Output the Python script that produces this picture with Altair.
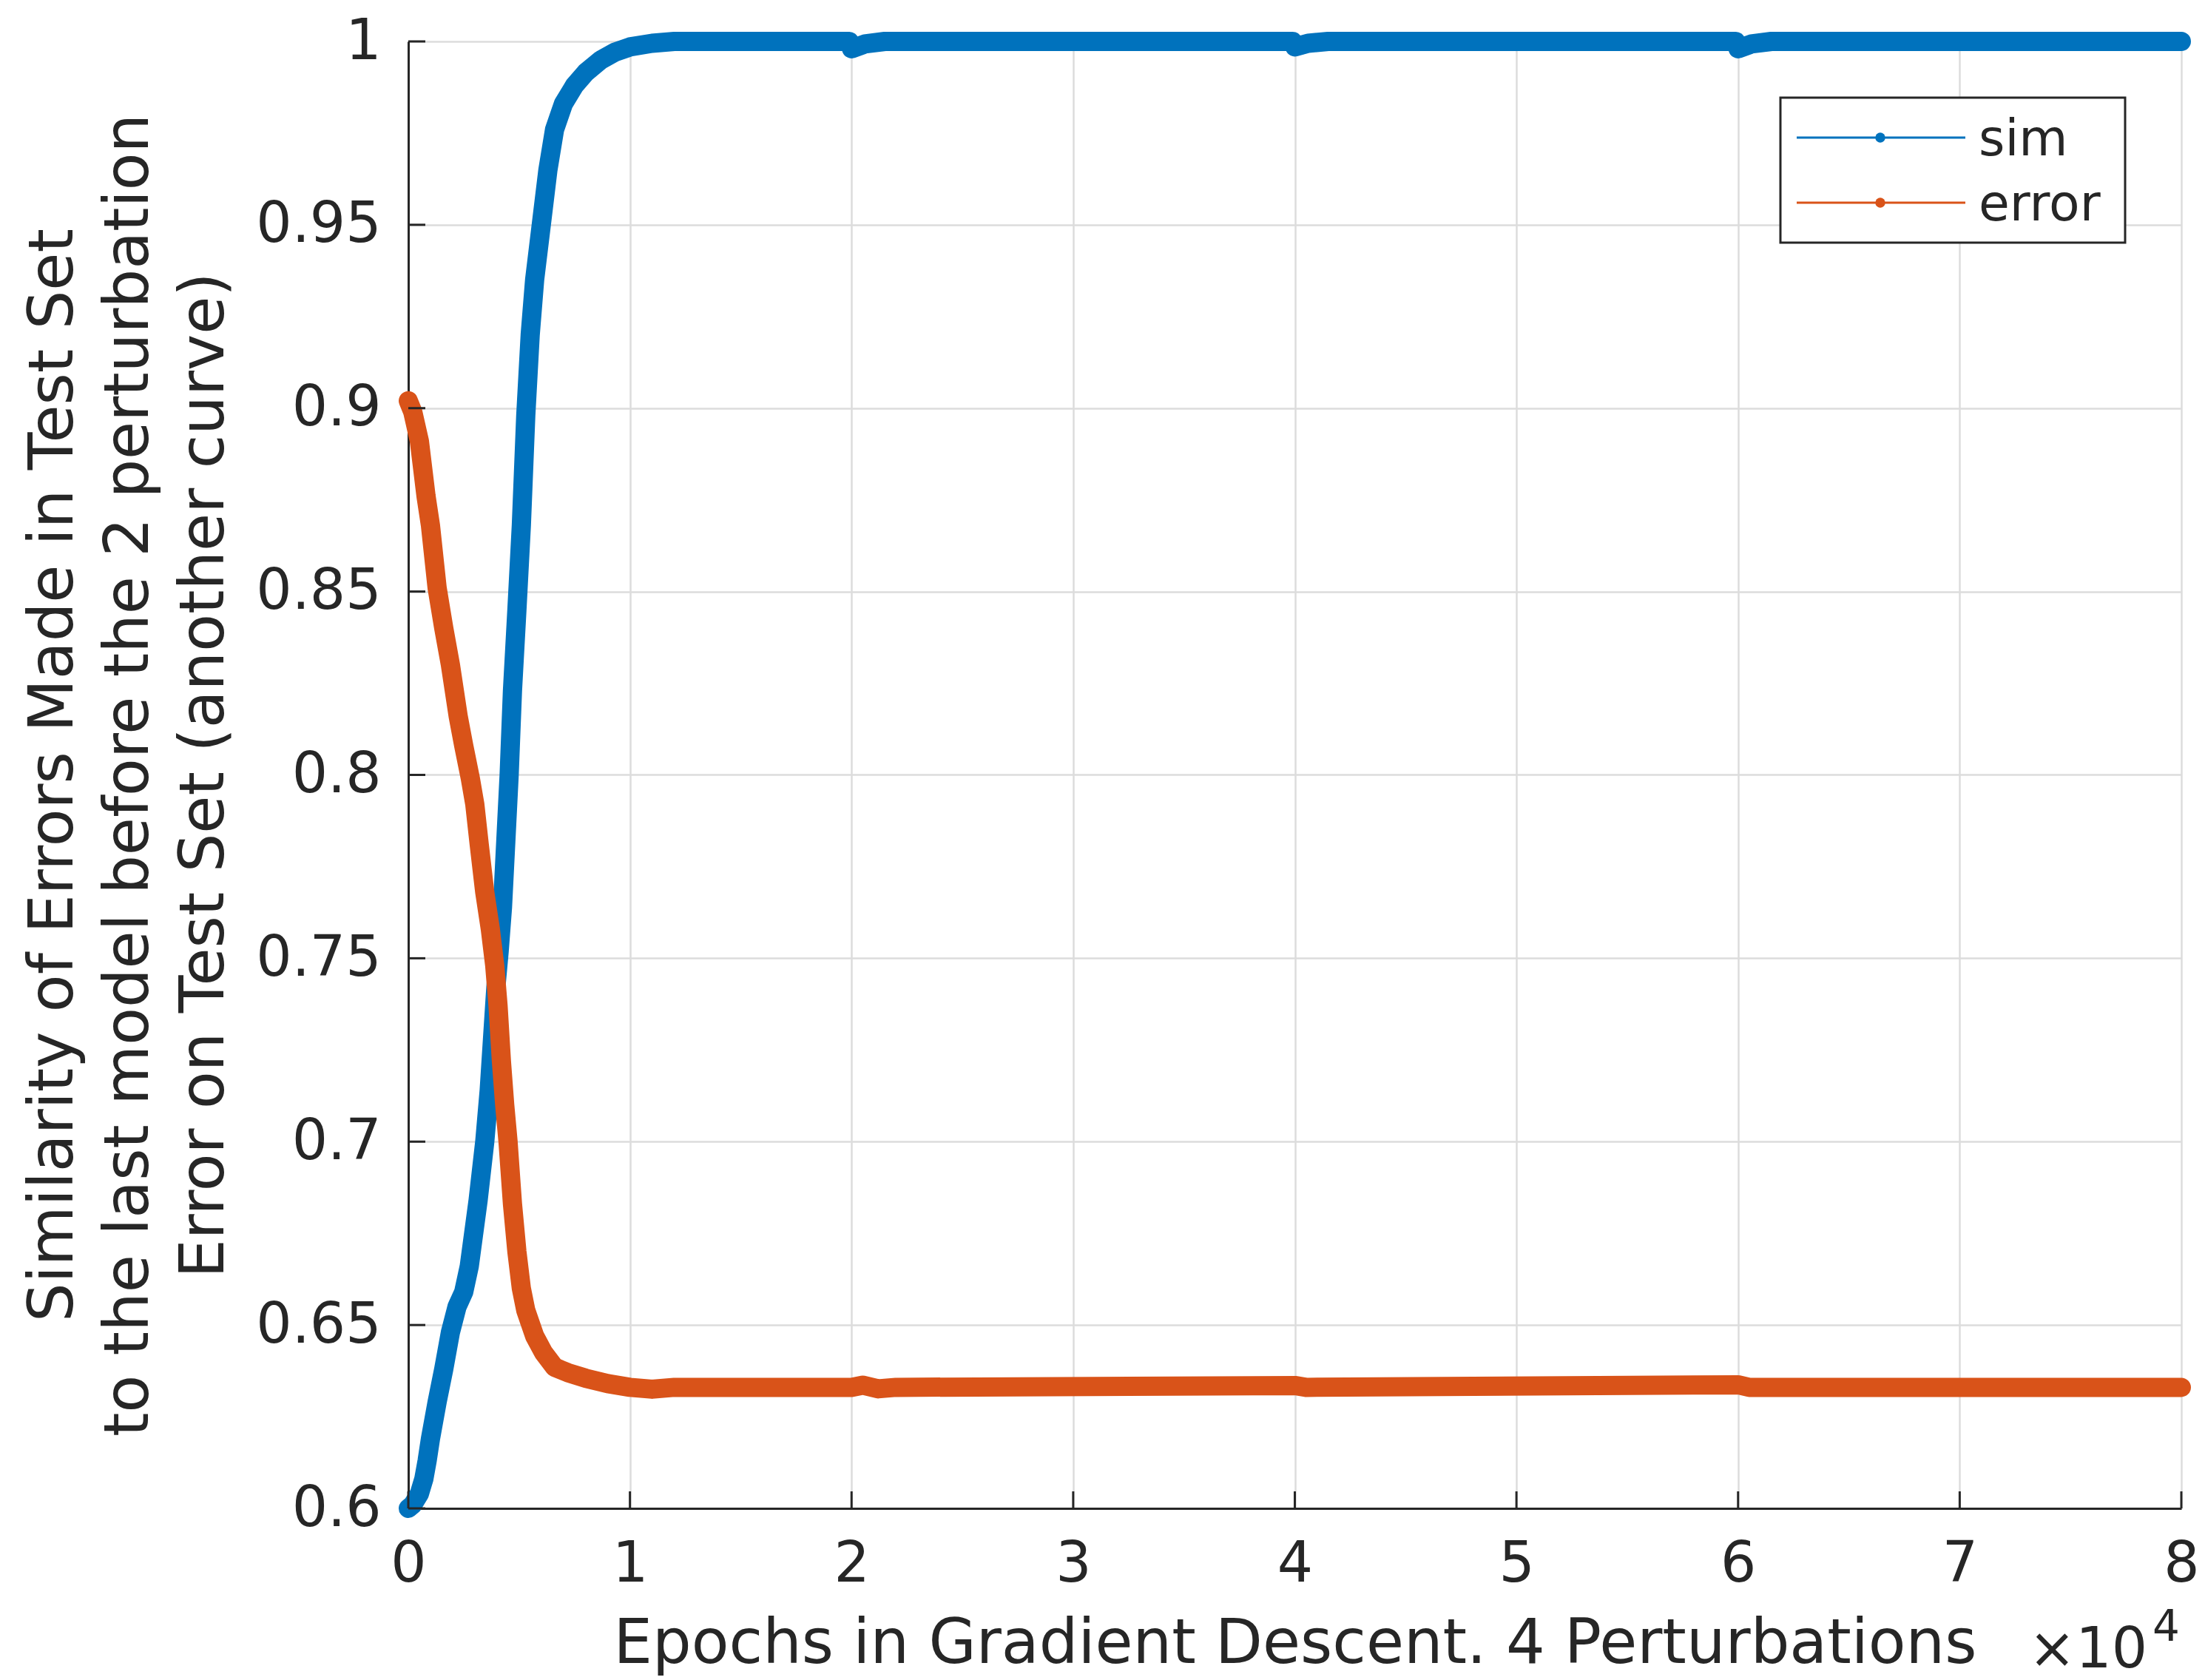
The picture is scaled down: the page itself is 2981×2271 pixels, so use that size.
import altair as alt
import pandas as pd

# Similarity curve: epoch -> similarity of test-set errors
SIM_EPOCHS = [0, 200, 500, 700, 850, 1000, 1300, 1600, 1900, 2200, 2500, 2750,
              3150, 3450, 3650, 3800, 3950, 4100, 4250, 4400, 4550, 4700, 4900,
              5100, 5300, 5500, 5700, 6000, 6300, 6600, 7000, 7500, 8000, 8700,
              9300, 10000, 11000, 12000, 19900, 20000, 20600, 21500, 39900,
              40000, 40600, 41500, 59900, 60000, 60600, 61500, 80000]
SIM_VALUES = [0.600, 0.601, 0.604, 0.608, 0.613, 0.619, 0.629, 0.638, 0.648,
              0.655, 0.659, 0.666, 0.684, 0.700, 0.714, 0.728, 0.742, 0.752,
              0.764, 0.782, 0.800, 0.823, 0.845, 0.868, 0.898, 0.920, 0.935,
              0.950, 0.965, 0.976, 0.983, 0.988, 0.9915, 0.995, 0.997, 0.9985,
              0.9995, 1.0, 1.0, 0.998, 0.9993, 1.0, 1.0, 0.9985, 0.9995, 1.0,
              1.0, 0.998, 0.9993, 1.0, 1.0]

# Error on the test set
ERR_EPOCHS = [0, 200, 500, 800, 1000, 1300, 1600, 1900, 2250, 2500, 2800, 3000,
              3200, 3450, 3700, 3900, 4050, 4200, 4350, 4500, 4700, 4900, 5100,
              5300, 5700, 6100, 6600, 7200, 8000, 9000, 10000, 11000, 12000,
              20000, 20500, 21200, 22000, 40000, 40500, 60000, 60500, 80000]
ERR_VALUES = [0.902, 0.899, 0.891, 0.876, 0.868, 0.851, 0.840, 0.830, 0.816,
              0.808, 0.799, 0.792, 0.781, 0.768, 0.758, 0.748, 0.737, 0.722,
              0.710, 0.700, 0.683, 0.670, 0.660, 0.654, 0.647, 0.6425, 0.6385,
              0.637, 0.6355, 0.634, 0.633, 0.6325, 0.633, 0.633, 0.6336, 0.6326,
              0.633, 0.6335, 0.633, 0.6337, 0.633, 0.633]

SERIES = ["sim", "error"]
COLORS = ["#0072BD", "#D95319"]

X_TICKS = [0, 10000, 20000, 30000, 40000, 50000, 60000, 70000, 80000]
Y_TICKS = [0.6, 0.65, 0.7, 0.75, 0.8, 0.85, 0.9, 0.95, 1.0]

X_TITLE = "Epochs in Gradient Descent. 4 Perturbations"
Y_TITLE = ["Similarity of Errors Made in Test Set",
           "to the last model before the 2 perturbation",
           "Error on Test Set (another curve)"]

W, H = 2397, 1983
FONT = "DejaVu Sans"
INK = "#262626"
TICK_LEN = 23

x_scale = alt.Scale(domain=[0, 80000], nice=False, zero=False)
y_scale = alt.Scale(domain=[0.6, 1.0], nice=False, zero=False)

x_axis = alt.Axis(values=X_TICKS, labelExpr="datum.value / 10000",
                  title=X_TITLE, ticks=False, tickSize=0, labelPadding=38,
                  labelFlush=False, labelOverlap=False,
                  titleX=W / 2, titleY=208, titleAlign="center",
                  titleBaseline="alphabetic")
y_axis = alt.Axis(values=Y_TICKS, format=".2~f", title=Y_TITLE, ticks=False,
                  tickSize=0, labelPadding=37, labelFlush=False,
                  labelOverlap=False, titleAngle=270,
                  titleX=-455, titleY=H / 2, titleAlign="center",
                  titleBaseline="alphabetic", titleLineHeight=102)

X_ENC = alt.X("epoch:Q", scale=x_scale, axis=x_axis)
Y_ENC = alt.Y("value:Q", scale=y_scale, axis=y_axis)

sim_df = pd.DataFrame({"epoch": SIM_EPOCHS, "value": SIM_VALUES})
err_df = pd.DataFrame({"epoch": ERR_EPOCHS, "value": ERR_VALUES})


def curve(df, color):
    return alt.Chart(df).mark_line(
        color=color, strokeWidth=26, strokeCap="round", strokeJoin="round"
    ).encode(x=X_ENC, y=Y_ENC)


sim_line = curve(sim_df, COLORS[0])
err_line = curve(err_df, COLORS[1])

# inward-pointing tick marks
x_ticks = alt.Chart(pd.DataFrame({"epoch": X_TICKS})).mark_rule(
    color=INK, strokeWidth=3
).encode(x=X_ENC, y=alt.value(H), y2=alt.value(H - TICK_LEN))
y_ticks = alt.Chart(pd.DataFrame({"value": Y_TICKS})).mark_rule(
    color=INK, strokeWidth=3
).encode(y=Y_ENC, x=alt.value(0), x2=alt.value(TICK_LEN))

# x10^4 exponent label
one = pd.DataFrame({"k": [0]})
exp_base = alt.Chart(one).mark_text(
    text="\u00d710", font=FONT, fontSize=76, color=INK, align="right",
    baseline="alphabetic"
).encode(x=alt.value(2351), y=alt.value(2198))
exp_pow = alt.Chart(one).mark_text(
    text="4", font=FONT, fontSize=58, color=INK, align="left",
    baseline="alphabetic"
).encode(x=alt.value(2358), y=alt.value(2162))

# legend box with line+dot samples
legend_layers = [
    alt.Chart(one).mark_rect(fill="white", stroke=INK, strokeWidth=3).encode(
        x=alt.value(1855), x2=alt.value(2321), y=alt.value(76), y2=alt.value(272)
    )
]
for i, (name, color) in enumerate(zip(SERIES, COLORS)):
    yv = 130 + i * 88
    row = pd.DataFrame({"series": [name]})
    legend_layers.append(
        alt.Chart(row).mark_rule(color=color, strokeWidth=3).encode(
            x=alt.value(1877), x2=alt.value(2105), y=alt.value(yv)))
    legend_layers.append(
        alt.Chart(row).mark_circle(color=color, size=180, opacity=1).encode(
            x=alt.value(1990), y=alt.value(yv)))
    legend_layers.append(
        alt.Chart(row).mark_text(font=FONT, fontSize=68, color=INK,
                                 align="left", baseline="alphabetic").encode(
            x=alt.value(2123), y=alt.value(yv + 24), text="series:N"))

chart = alt.layer(
    sim_line, err_line, x_ticks, y_ticks, exp_base, exp_pow, *legend_layers
).properties(
    width=W, height=H,
    autosize=alt.AutoSizeParams(type="none"),
    padding={"left": 552, "top": 56, "right": 32, "bottom": 232},
    background="white",
).configure_view(
    stroke=None
).configure_axis(
    grid=True, gridColor="#dcdcdc", gridWidth=2.5,
    domainColor=INK, domainWidth=3,
    labelFont=FONT, labelFontSize=76, labelColor=INK,
    titleFont=FONT, titleFontSize=83, titleColor=INK, titleFontWeight="normal",
)

chart.save("out.html", embed_options={"renderer": "svg", "actions": False})
